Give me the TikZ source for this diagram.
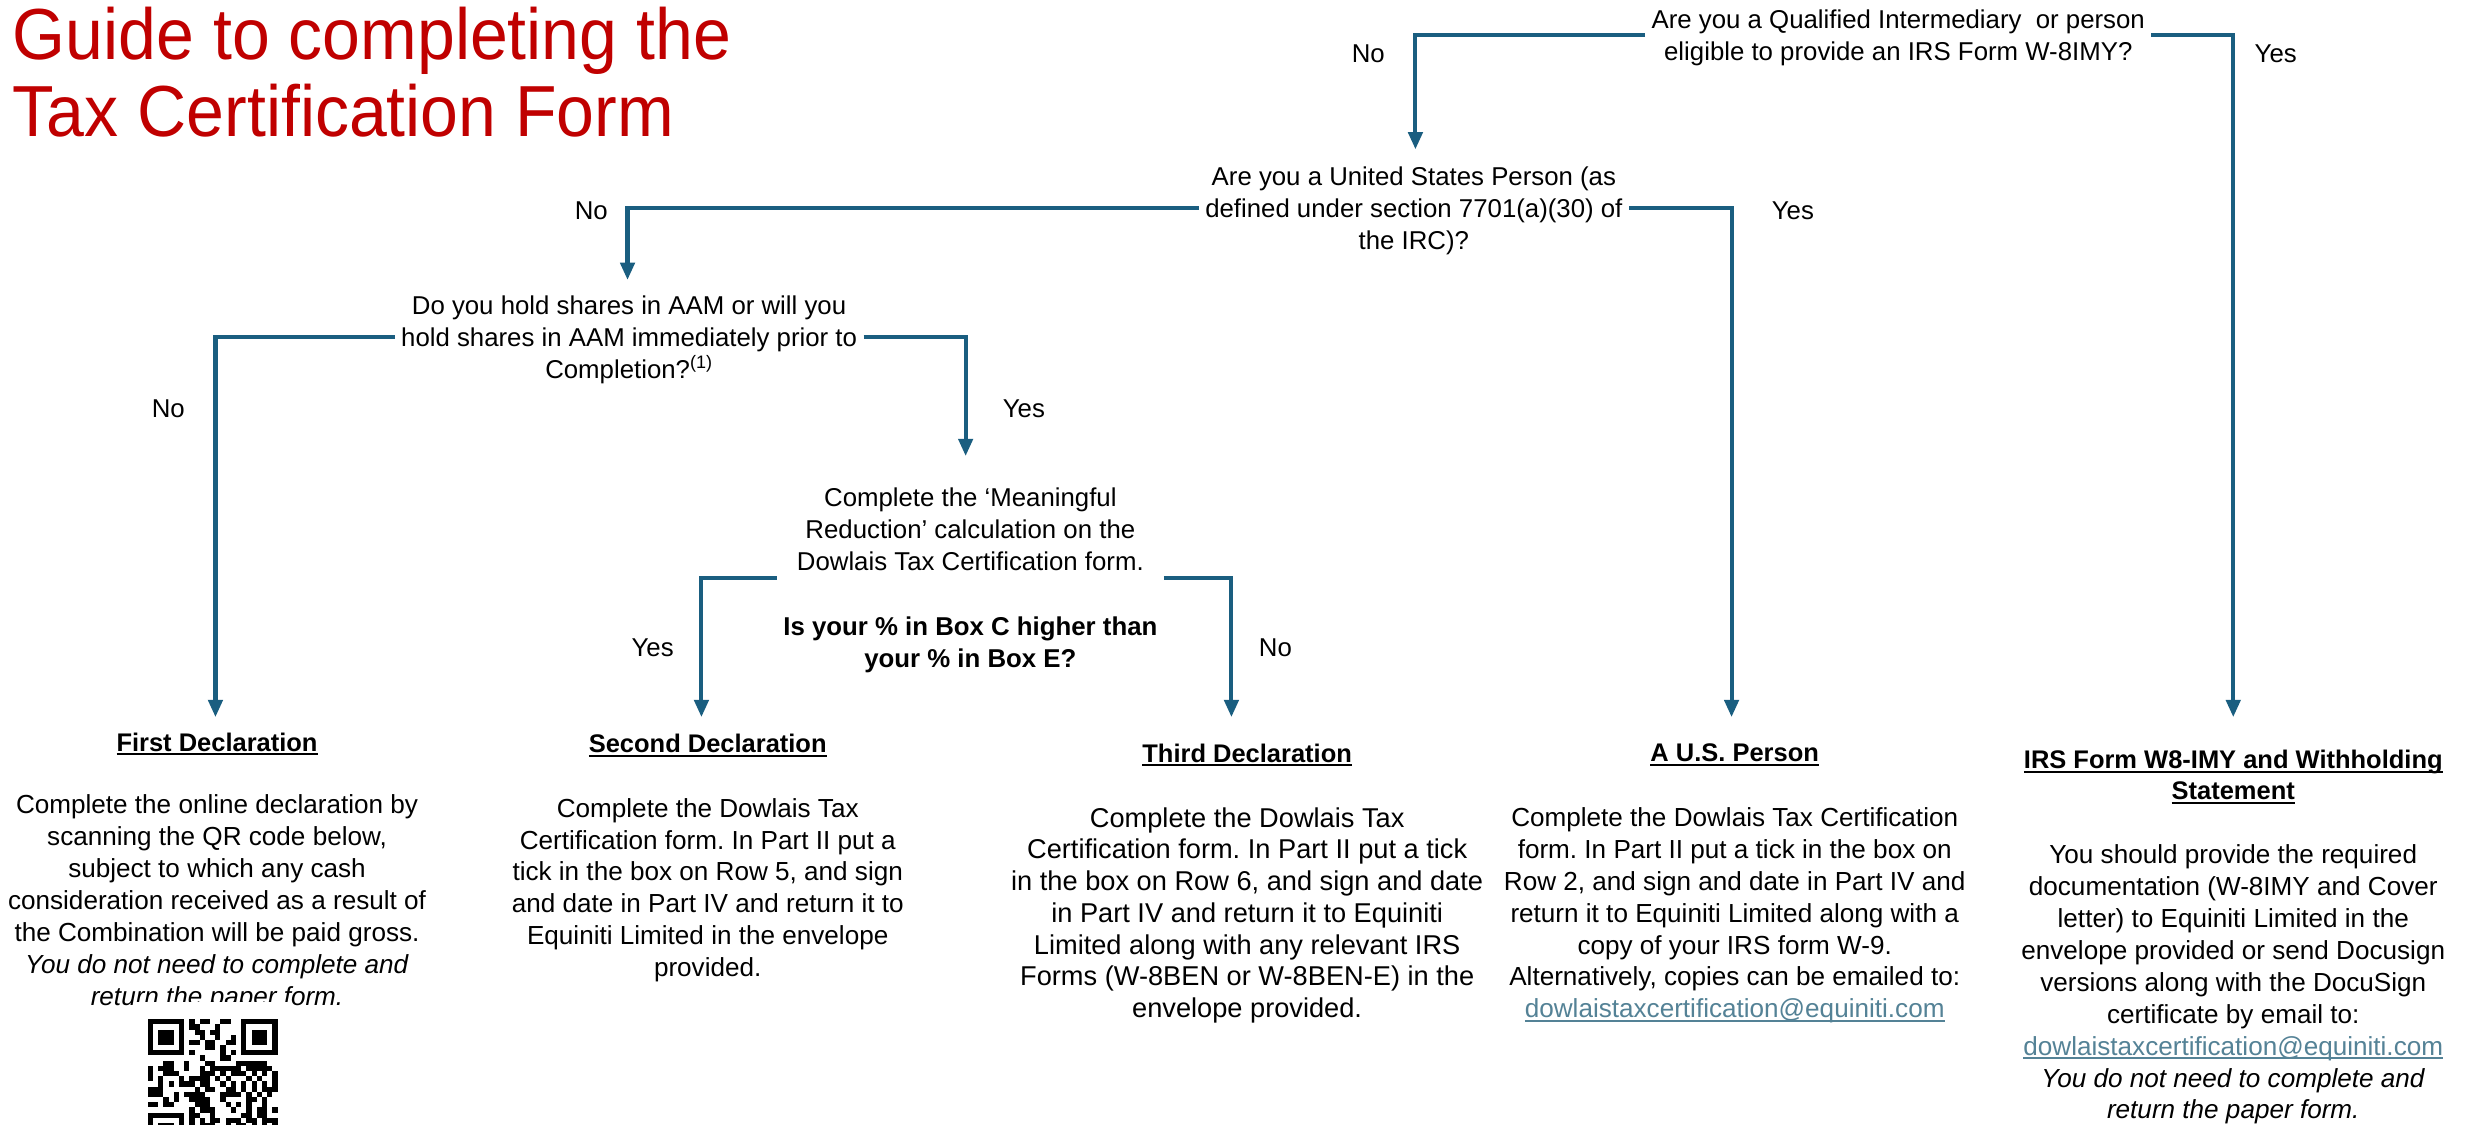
\documentclass[tikz,border=0pt]{standalone}
\usepackage{fontspec}
\setmainfont{Liberation Sans}
\newfontfamily\titlefont{Liberation Sans}[FakeStretch=0.94]
\usetikzlibrary{arrows.meta}
\definecolor{flowblue}{RGB}{26,94,128}
\definecolor{titlered}{RGB}{192,0,0}
\definecolor{linkcol}{RGB}{84,130,150}
\newcommand{\myul}[1]{\setbox0\hbox{#1}\rlap{\rule[-2.6pt]{\wd0}{1.1pt}}\box0}
\newcommand{\maillink}[1]{\textcolor{linkcol}{\myul{#1}}}
\frenchspacing
\tikzset{
  conn/.style={draw=flowblue, line width=2.6pt, -{Triangle[length=11pt,width=9pt]}},
  qbox/.style={align=center, font=\fontsize{16.4}{20.5}\selectfont, inner sep=4pt},
  lbl/.style={font=\fontsize{16.4}{20.5}\selectfont, inner sep=0pt},
  headbox/.style={align=center, font=\bfseries\fontsize{16.2}{19.5}\selectfont, inner sep=0pt},
  bodybox/.style={align=center, font=\fontsize{16.6}{20.3}\selectfont, inner sep=0pt},
  bodywide/.style={align=center, font=\fontsize{17.3}{20.2}\selectfont, inner sep=0pt},
}
\begin{document}
\begin{tikzpicture}[x=1pt,y=-1pt]
\fill[white] (0,0) rectangle (1568,715);
\useasboundingbox (0,0) rectangle (1568,715);

% title
\node[anchor=west, align=left, inner sep=0pt, text=titlered,
      font=\titlefont\fontsize{46}{49}\selectfont] (title) at (8,46)
      {Guide to completing the\\Tax Certification Form};

% questions
\node[qbox] (q1) at (1207,24) {Are you a Qualified Intermediary\ \ or person\\eligible to provide an IRS Form W-8IMY?};
\node[qbox] (q2) at (899,134) {Are you a United States Person (as\\defined under section 7701(a)(30) of\\the IRC)?};
\node[qbox] (q3) at (400,216) {Do you hold shares in AAM or will you\\hold shares in AAM immediately prior to\\Completion?\textsuperscript{(1)}};
\node[qbox] (q4) at (617,369) {Complete the ‘Meaningful\\Reduction’ calculation on the\\Dowlais Tax Certification form.\\[20.5pt]\textbf{Is your \% in Box C higher than}\\\textbf{your \% in Box E?}};

% labels
\node[lbl] (l1) at (870,34) {No};
\node[lbl] (l2) at (1447,34) {Yes};
\node[lbl] (l3) at (376,134) {No};
\node[lbl] (l4) at (1140,134) {Yes};
\node[lbl] (l5) at (107,260) {No};
\node[lbl] (l6) at (651,260) {Yes};
\node[lbl] (l7) at (415,412) {Yes};
\node[lbl] (l8) at (811,412) {No};

% arrow tips
\coordinate (tq2) at (900,95);
\coordinate (tq3) at (399,178);
\coordinate (tq4) at (614,290);
\coordinate (t1) at (137,456);
\coordinate (t2) at (446,456);
\coordinate (t3) at (783,456);
\coordinate (t4) at (1101,456);
\coordinate (t5) at (1420,456);

% connectors
\draw[conn] ([yshift=1.5pt]q1.west) -| (tq2);
\draw[conn] ([yshift=1.5pt]q1.east) -| (t5);
\draw[conn] ([yshift=1.5pt]q2.west) -| (tq3);
\draw[conn] ([yshift=1.5pt]q2.east) -| (t4);
\draw[conn] ([yshift=1.5pt]q3.west) -| (t1);
\draw[conn] ([yshift=1.5pt]q3.east) -| (tq4);
\draw[conn] ([yshift=1.5pt]q4.west) -| (t2);
\draw[conn] ([yshift=1.5pt]q4.east) -| (t3);

% headings
\node[headbox] (h1) at (138,473) {\myul{First Declaration}};
\node[headbox] (h2) at (450,474) {\myul{Second Declaration}};
\node[headbox] (h3) at (793,480) {\myul{Third Declaration}};
\node[headbox] (h4) at (1103,480) {\myul{A U.S. Person}};
\node[headbox] (h5) at (1420,494) {\myul{IRS Form W8-IMY and Withholding}\\\myul{Statement}};

% bodies
\node[bodybox] (b1) at (138,574) {Complete the online declaration by\\scanning the QR code below,\\subject to which any cash\\consideration received as a result of\\the Combination will be paid gross.\\\textit{You do not need to complete and}\\\textit{return the paper form.}};
\node[bodybox] (b2) at (450,566) {Complete the Dowlais Tax\\Certification form. In Part II put a\\tick in the box on Row 5, and sign\\and date in Part IV and return it to\\Equiniti Limited in the envelope\\provided.};
\node[bodywide] (b3) at (793,582) {Complete the Dowlais Tax\\Certification form. In Part II put a tick\\in the box on Row 6, and sign and date\\in Part IV and return it to Equiniti\\Limited along with any relevant IRS\\Forms (W-8BEN or W-8BEN-E) in the\\envelope provided.};
\node[bodybox] (b4) at (1103,582) {Complete the Dowlais Tax Certification\\form. In Part II put a tick in the box on\\Row 2, and sign and date in Part IV and\\return it to Equiniti Limited along with a\\copy of your IRS form W-9.\\Alternatively, copies can be emailed to:\\\maillink{dowlaistaxcertification@equiniti.com}};
\node[bodybox] (b5) at (1420,626) {You should provide the required\\documentation (W-8IMY and Cover\\letter) to Equiniti Limited in the\\envelope provided or send Docusign\\versions along with the DocuSign\\certificate by email to:\\\maillink{dowlaistaxcertification@equiniti.com}\\\textit{You do not need to complete and}\\\textit{return the paper form.}};

% QR code
\begin{scope}
\clip (86,637) rectangle (185,715);
\fill[white] (86,637) rectangle (185,715);
\pgfmathsetseed{12}
\foreach \r in {0,...,24}{
  \foreach \c in {0,...,24}{
    \pgfmathsetmacro\v{rnd}
    \ifdim\v pt<0.5pt
      \fill[black] (94+\c*3.3,648+\r*3.3) rectangle ++(3.3,3.3);
    \fi
  }
}
\foreach \fx/\fy in {94/648, 153.4/648, 94/707.4}{
  \fill[white] (\fx-3.3,\fy-3.3) rectangle ++(29.7,29.7);
  \fill[black] (\fx,\fy) rectangle ++(23.1,23.1);
  \fill[white] (\fx+3.3,\fy+3.3) rectangle ++(16.5,16.5);
  \fill[black] (\fx+6.6,\fy+6.6) rectangle ++(9.9,9.9);
}
\end{scope}
\end{tikzpicture}
\end{document}
